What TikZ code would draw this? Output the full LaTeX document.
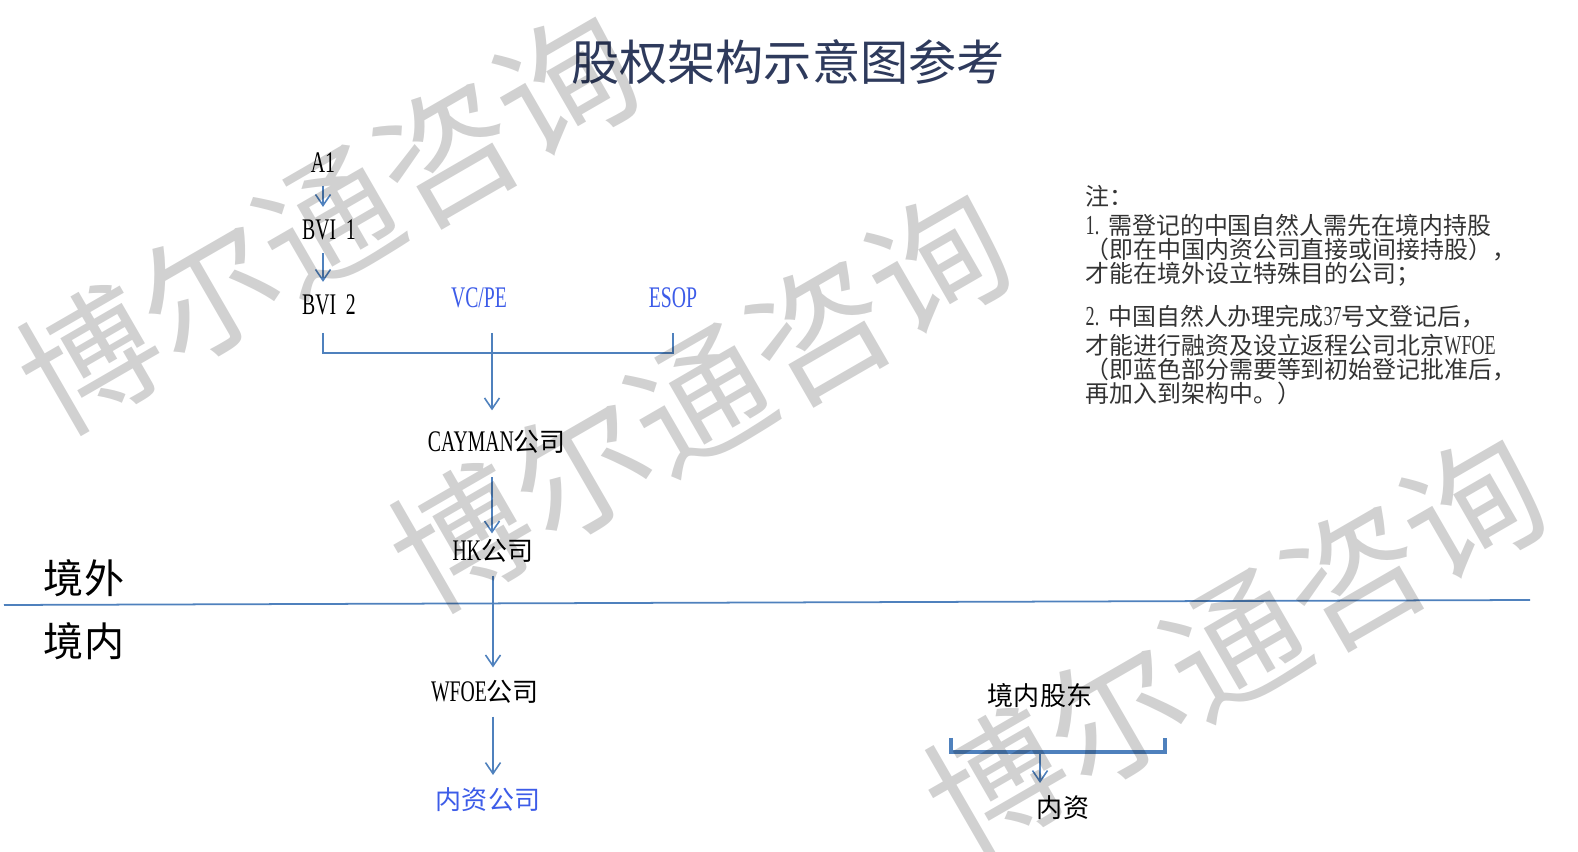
\documentclass[tikz,border=0pt]{standalone}
\usepackage{fontspec}
\setmainfont[FakeStretch=0.66,Scale=1.15]{Liberation Serif}
\newfontfamily\cjkfont{Noto Sans CJK SC}
\newcommand\zh[1]{{\cjkfont #1}}
\usetikzlibrary{arrows.meta}

\begin{document}
\begin{tikzpicture}[x=0.01cm,y=-0.01cm,
    lbl/.style={inner sep=1.5pt,font=\fontsize{7.4pt}{8pt}\selectfont},
    blue lbl/.style={lbl,text=textblue},
    zone/.style={inner sep=0pt,font=\cjkfont\fontsize{11.4pt}{12pt}\selectfont},
    link/.style={draw=linkblue,line width=0.45pt},
    arr/.style={link,shorten <=2pt,shorten >=2pt,-{Straight Barb[length=1.1mm,width=1.5mm]}},
    wm/.style={rotate=30,inner sep=0pt,text=black,text opacity=0.18,font=\cjkfont\fontsize{39pt}{39pt}\selectfont}]
    \definecolor{linkblue}{HTML}{4F81BD}
    \definecolor{textblue}{HTML}{3D5CE8}
    \definecolor{titleblue}{HTML}{2E3A5C}
    \useasboundingbox (0,0) rectangle (1578,852);
    % title and notes
    \node[inner sep=0pt,text=titleblue,font=\cjkfont\fontsize{13.7pt}{14pt}\selectfont] (title) at (788,62) {股权架构示意图参考};
    \node[anchor=north west,inner sep=0pt,align=left,text=black!80,
      font=\cjkfont\fontsize{6.8pt}{6.83pt}\selectfont] (note) at (1085,185)
      {注：\\[1.4pt]
       \makebox[0.95em][l]{\rmfamily 1.}需登记的中国自然人需先在境内持股\\
       （即在中国内资公司直接或间接持股），\\
       才能在境外设立特殊目的公司；\\[4.3pt]
       \makebox[0.95em][l]{\rmfamily 2.}中国自然人办理完成{\rmfamily 37}号文登记后，\\[1.4pt]
       才能进行融资及设立返程公司北京{\rmfamily WFOE}\\
       （即蓝色部分需要等到初始登记批准后，\\
       再加入到架构中。）};
    % offshore part
    \node[lbl] (A1) at (323,163) {A1};
    \node[lbl] (BVI1) at (329,230) {BVI~~1};
    \node[lbl] (BVI2) at (329,305) {BVI~~2};
    \node[blue lbl] (VCPE) at (479,298) {VC/PE};
    \node[blue lbl] (ESOP) at (673,298) {ESOP};
    \node[lbl] (CAYMAN) at (497,442) {CAYMAN\zh{公司}};
    \node[lbl] (HK) at (493,551) {HK\zh{公司}};
    \node[zone] (JW) at (84,578) {境外};
    \node[zone] (JN) at (84,641) {境内};
    \draw[linkblue,line width=0.5pt] (4,605) -- (1530,600);
    % onshore part
    \node[lbl] (WFOE) at (485,692) {WFOE\zh{公司}};
    \node[blue lbl] (NZGS) at (488,800) {\zh{内资公司}};
    \node[lbl] (JNGD) at (1040,696) {\zh{境内股东}};
    \node[lbl] (NZ) at (1063,808) {\zh{内资}};
    % connectors
    \path (0,333) coordinate (up) (0,353) coordinate (bar) (492,0) coordinate (mid);
    \draw[arr] (A1.south) -- (A1 |- BVI1.north);
    \draw[arr] (A1 |- BVI1.south) -- (A1 |- BVI2.north);
    \draw[link] (A1 |- up) -- (A1 |- bar) -- (ESOP |- bar) -- (ESOP |- up);
    \draw[link] (mid |- up) -- (mid |- bar);
    \draw[arr,shorten <=0pt,shorten >=4pt] (mid |- bar) -- (mid |- CAYMAN.north);
    \draw[arr,shorten <=5pt,shorten >=0pt] (mid |- CAYMAN.south) -- (mid |- HK.north);
    \draw[arr] (HK.south) -- (HK.south |- WFOE.north);
    \draw[arr] (HK |- WFOE.south) -- (HK |- NZGS.north);
    \path (951,738) coordinate (dl) (1165,738) coordinate (dr) (0,752) coordinate (dbar);
    \draw[link,line width=1pt] (dl) |- (dr |- dbar) -- (dr);
    \draw[arr,shorten <=0pt] (JNGD |- dbar) -- (JNGD |- NZ.north);
    % watermark
    \foreach \p/\n in {{(328,222)}/wm1,{(700,400)}/wm2,{(1235,645)}/wm3}
      \node[wm] (\n) at \p {博尔通咨询};
\end{tikzpicture}
\end{document}
